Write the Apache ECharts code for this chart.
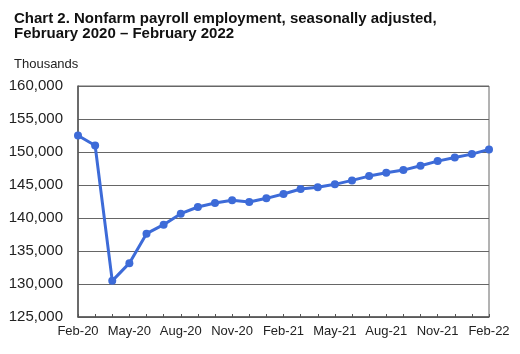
<!DOCTYPE html>
<html>
<head>
<meta charset="utf-8">
<script src="https://cdn.jsdelivr.net/npm/echarts@6/dist/echarts.min.js"></script>
<style>
  html, body { margin: 0; padding: 0; background: #fff; }
  #chart { width: 520px; height: 354px; }
</style>
</head>
<body>
<div id="chart"></div>
<script>
// months, Feb 2020 - Feb 2022
var months = ['Feb-20', 'Mar-20', 'Apr-20', 'May-20', 'Jun-20', 'Jul-20', 'Aug-20', 'Sep-20', 'Oct-20', 'Nov-20', 'Dec-20', 'Jan-21',
    'Feb-21', 'Mar-21', 'Apr-21', 'May-21', 'Jun-21', 'Jul-21', 'Aug-21', 'Sep-21', 'Oct-21', 'Nov-21', 'Dec-21', 'Jan-22', 'Feb-22']

// nonfarm payroll employment, thousands
var payroll = [152504, 150990, 130480, 133160, 137630, 138990, 140660, 141670, 142270, 142680, 142420, 142980,
    143630, 144390, 144650, 145100, 145700, 146350, 146850, 147260, 147910, 148620, 149180, 149680, 150390]

var yTicks = { min: 125000, max: 160000, step: 5000 }

var chart = echarts.init(document.getElementById('chart'))

var option = {
    animation: false,
    title: [{
        text: 'Chart 2. Nonfarm payroll employment, seasonally adjusted,\nFebruary 2020 – February 2022',
        left: 9,
        top: 6,
        textStyle: {
            fontFamily: 'Liberation Sans',
            fontSize: 15,
            fontWeight: 'bold',
            color: '#111',
            lineHeight: 15
        }
    }, {
        text: 'Thousands',
        left: 9,
        top: 53,
        textStyle: {
            fontFamily: 'Liberation Sans',
            fontSize: 13,
            fontWeight: 'normal',
            color: '#222'
        }
    }],
    grid: {
        left: 78,
        right: 31,
        top: 86,
        bottom: 37,
        show: true,
        borderColor: '#666',
        borderWidth: 1
    },
    xAxis: {
        type: 'category',
        data: months,
        boundaryGap: false,
        axisLine: { lineStyle: { color: '#555', width: 1.5 } },
        axisTick: { interval: 0, inside: true, length: 3, lineStyle: { color: '#555' } },
        axisLabel: {
            interval: 2,
            margin: 8,
            fontFamily: 'Liberation Sans',
            fontSize: 13,
            color: '#222'
        },
        splitLine: { show: false }
    },
    yAxis: {
        type: 'value',
        min: yTicks.min,
        max: yTicks.max,
        interval: yTicks.step,
        axisLine: { show: true, lineStyle: { color: '#555', width: 1.5 } },
        axisTick: { show: false },
        axisLabel: {
            margin: 15,
            fontFamily: 'Liberation Sans',
            fontSize: 15,
            color: '#222',
            formatter: function (v) { return v.toLocaleString('en-US') }
        },
        splitLine: { lineStyle: { color: '#666', width: 1 } }
    },
    series: [{
        type: 'line',
        data: payroll,
        symbol: 'circle',
        symbolSize: 8,
        lineStyle: { color: '#3d6bd8', width: 3 },
        itemStyle: { color: '#3d6bd8' }
    }]
}

chart.setOption(option)
</script>
</body>
</html>
